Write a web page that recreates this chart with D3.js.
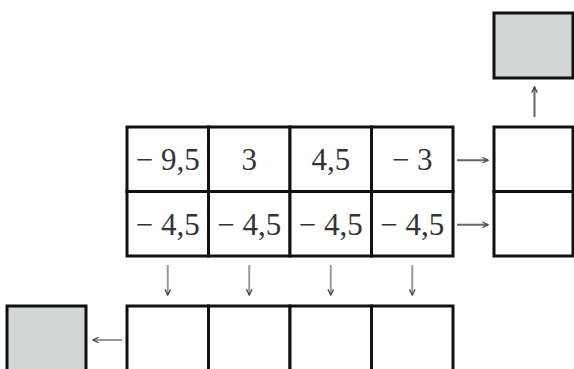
<!DOCTYPE html>
<html>
<head>
<meta charset="utf-8">
<script src="https://cdn.jsdelivr.net/npm/d3@7"></script>
<style>
  body { margin: 0; background: #fff; }
  svg { display: block; }
</style>
</head>
<body>
<div id="chart"></div>
<script>
// Table values
var columns = [0, 1, 2, 3];
var rows = ["top", "bottom"];
var topRow = [-9.5, 3, 4.5, -3];
var bottomRow = [-4.5, -4.5, -4.5, -4.5];

var svgWidth = 574;
var svgHeight = 369;

var svg = d3.select("#chart")
  .append("svg")
  .attr("width", svgWidth)
  .attr("height", svgHeight);

// Scales for the main grid
var xScale = d3.scaleBand().domain(columns).range([127, 453]);
var yScale = d3.scaleBand().domain(rows).range([127, 256]);

var lineColor = "#111";
var arrowColor = "#666";
var grayFill = "#d3d7d3";

// arrow head marker
svg.append("defs").append("marker")
  .attr("id", "head")
  .attr("viewBox", "0 0 10 10")
  .attr("refX", 9)
  .attr("refY", 5)
  .attr("markerWidth", 7)
  .attr("markerHeight", 7)
  .attr("markerUnits", "userSpaceOnUse")
  .attr("orient", "auto")
  .append("path")
  .attr("d", "M1,1 L9,5 L1,9")
  .attr("fill", "none")
  .attr("stroke", "#444")
  .attr("stroke-width", 1.8);

function fmt(v) {
  var s = String(Math.abs(v)).replace(".", ",");
  return v < 0 ? "\u2212 " + s : s;
}

var cells = [];
rows.forEach(function(r, i) {
  var vals = i == 0 ? topRow : bottomRow;
  columns.forEach(function(c) {
    cells.push({row: r, col: c, value: vals[c]});
  });
});

// main grid cells
svg.selectAll("rect.cell")
  .data(cells)
  .enter()
  .append("rect")
  .attr("class", "cell")
  .attr("x", d => xScale(d.col))
  .attr("y", d => yScale(d.row))
  .attr("width", xScale.bandwidth())
  .attr("height", yScale.bandwidth())
  .attr("fill", "#fff")
  .attr("stroke", lineColor)
  .attr("stroke-width", 3);

svg.selectAll("text.val")
  .data(cells)
  .enter()
  .append("text")
  .attr("class", "val")
  .attr("x", d => xScale(d.col) + xScale.bandwidth() / 2)
  .attr("y", d => yScale(d.row) + yScale.bandwidth() / 2 + 11)
  .attr("text-anchor", "middle")
  .style("font-family", "'Liberation Serif', 'DejaVu Serif', serif")
  .style("font-size", "31px")
  .attr("fill", "#333")
  .text(d => fmt(d.value));

// right column (empty boxes)
var rightX = 494, rightW = 79;
svg.selectAll("rect.right")
  .data(rows)
  .enter()
  .append("rect")
  .attr("class", "right")
  .attr("x", rightX)
  .attr("y", d => yScale(d))
  .attr("width", rightW)
  .attr("height", yScale.bandwidth())
  .attr("fill", "#fff")
  .attr("stroke", lineColor)
  .attr("stroke-width", 3);

// arrows from rows to right column
svg.selectAll("line.rarrow")
  .data(rows)
  .enter()
  .append("line")
  .attr("x1", 457)
  .attr("x2", 488)
  .attr("y1", d => yScale(d) + yScale.bandwidth() / 2 + 1)
  .attr("y2", d => yScale(d) + yScale.bandwidth() / 2 + 1)
  .attr("stroke", arrowColor)
  .attr("stroke-width", 2)
  .attr("marker-end", "url(#head)");

// top gray box and up arrow
svg.append("rect")
  .attr("x", rightX).attr("y", 13)
  .attr("width", rightW).attr("height", 65)
  .attr("fill", grayFill)
  .attr("stroke", lineColor)
  .attr("stroke-width", 3);

svg.append("line")
  .attr("x1", rightX + rightW / 2 + 1).attr("x2", rightX + rightW / 2 + 1)
  .attr("y1", 117).attr("y2", 87)
  .attr("stroke", arrowColor)
  .attr("stroke-width", 2)
  .attr("marker-end", "url(#head)");

// down arrows
svg.selectAll("line.darrow")
  .data(columns)
  .enter()
  .append("line")
  .attr("x1", d => xScale(d) + xScale.bandwidth() / 2)
  .attr("x2", d => xScale(d) + xScale.bandwidth() / 2)
  .attr("y1", 265)
  .attr("y2", 295)
  .attr("stroke", "#999")
  .attr("stroke-width", 2)
  .attr("marker-end", "url(#head)");

// bottom row of empty boxes
svg.selectAll("rect.bottom")
  .data(columns)
  .enter()
  .append("rect")
  .attr("x", d => xScale(d))
  .attr("y", 306)
  .attr("width", xScale.bandwidth())
  .attr("height", 80)
  .attr("fill", "#fff")
  .attr("stroke", lineColor)
  .attr("stroke-width", 3);

// bottom-left gray box and left arrow
svg.append("rect")
  .attr("x", 7).attr("y", 306)
  .attr("width", 79).attr("height", 80)
  .attr("fill", grayFill)
  .attr("stroke", lineColor)
  .attr("stroke-width", 3);

svg.append("line")
  .attr("x1", 122).attr("x2", 93)
  .attr("y1", 340).attr("y2", 340)
  .attr("stroke", "#999")
  .attr("stroke-width", 2)
  .attr("marker-end", "url(#head)");
</script>
</body>
</html>
